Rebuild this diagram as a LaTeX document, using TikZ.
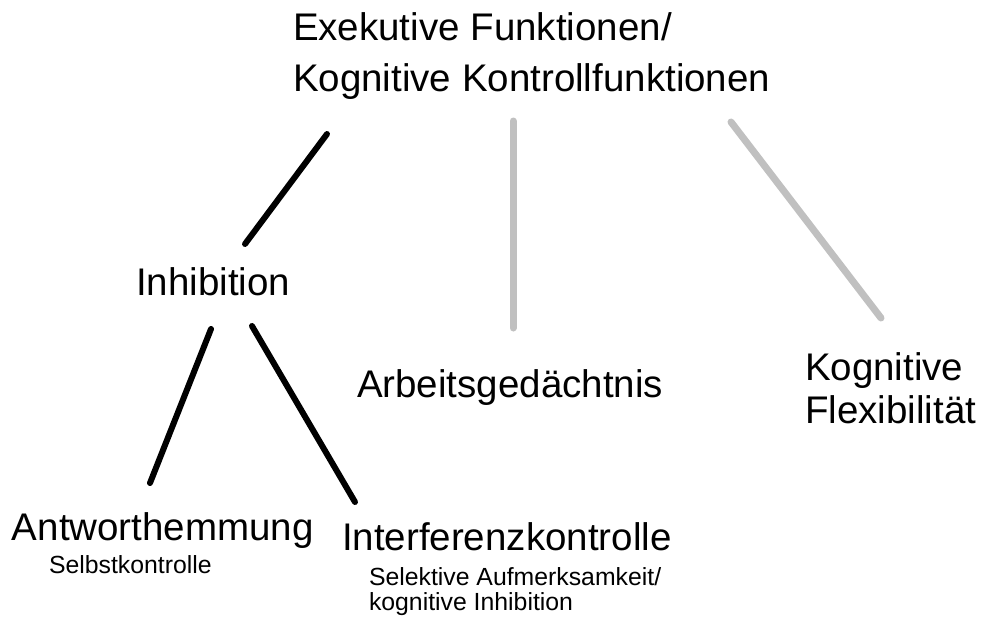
\documentclass[tikz,border=0pt]{standalone}
\usepackage{fontspec}
\setmainfont{Liberation Sans}
\begin{document}
\begin{tikzpicture}[x=1pt,y=-1pt,
  big/.style={inner sep=0pt, outer sep=0pt, anchor=base west, align=left,
    font=\fontsize{38.5}{51}\selectfont},
  bigtight/.style={big, font=\fontsize{38.5}{43}\selectfont},
  small/.style={inner sep=0pt, outer sep=0pt, anchor=base west, align=left,
    font=\fontsize{24.8}{25}\selectfont},
  blackline/.style={line width=6pt, line cap=round, black},
  grayline/.style={line width=7pt, line cap=round, color=lgray}]
\definecolor{lgray}{RGB}{192,192,192}
\useasboundingbox (0,0) rectangle (981,619);
% texts (multi-line nodes are placed by the baseline of their last line)
\node[big] (ef) at (293,91) {Exekutive Funktionen/\\Kognitive Kontrollfunktionen};
\node[big] (inh) at (136,295) {Inhibition};
\node[big] (ag) at (357,397) {Arbeitsgedächtnis};
\node[bigtight] (kf) at (805,423) {Kognitive\\Flexibilität};
\node[big] (aw) at (12,540) {Antworthemmung};
\node[small] (sk) at (49,573) {Selbstkontrolle};
\node[big] (ik) at (342,550) {Interferenzkontrolle};
\node[small] (sa) at (369,610) {Selektive Aufmerksamkeit/\\kognitive Inhibition};
% line ends
\coordinate (l1a) at (327,134); \coordinate (l1b) at (245,244);
\coordinate (l2a) at (211,329); \coordinate (l2b) at (150,483);
\coordinate (l3a) at (252,326); \coordinate (l3b) at (355,502);
\coordinate (g1a) at (513,121); \coordinate (g1b) at (513,328);
\coordinate (g2a) at (731,122); \coordinate (g2b) at (881,318);
\draw[blackline] (l1a) -- (l1b);
\draw[blackline] (l2a) -- (l2b);
\draw[blackline] (l3a) -- (l3b);
\draw[grayline] (g1a) -- (g1b);
\draw[grayline] (g2a) -- (g2b);
\end{tikzpicture}
\end{document}
